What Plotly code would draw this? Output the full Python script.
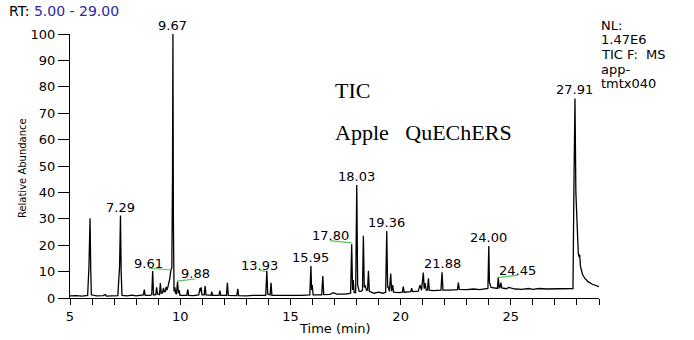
import plotly.graph_objects as go

# Chromatogram trace: (retention time [min], relative abundance [%])
tic_points = [
    (5.00, 0.8), (5.30, 0.9), (5.55, 0.7), (5.80, 1.0), (5.86, 12.0), (5.91, 30.2),
    (5.94, 11.0), (5.97, 1.2), (6.20, 0.8), (6.50, 0.9), (6.60, 1.3), (6.65, 0.7),
    (6.90, 0.8), (7.17, 0.9), (7.25, 12.0), (7.29, 31.2), (7.32, 10.0), (7.36, 1.0),
    (7.60, 0.8), (7.80, 1.1), (8.00, 0.8), (8.20, 1.0), (8.33, 1.2), (8.37, 3.2),
    (8.41, 1.0), (8.60, 1.0), (8.71, 1.2), (8.75, 10.2), (8.79, 1.2), (8.89, 1.2),
    (8.93, 4.0), (8.97, 1.5), (9.06, 1.3), (9.10, 5.7), (9.14, 1.8), (9.20, 2.0),
    (9.24, 3.8), (9.28, 2.3), (9.33, 2.5), (9.36, 4.2), (9.40, 3.0), (9.45, 4.5),
    (9.52, 7.0), (9.58, 10.6), (9.62, 11.5), (9.65, 45.0), (9.67, 100.0), (9.69, 30.0),
    (9.72, 2.5), (9.76, 4.0), (9.79, 1.8), (9.83, 1.6), (9.88, 6.2), (9.92, 1.8),
    (9.95, 3.0), (9.99, 1.0), (10.15, 1.0), (10.30, 1.0), (10.34, 3.3), (10.38, 1.0),
    (10.60, 0.9), (10.84, 1.2), (10.90, 3.7), (10.92, 2.5), (10.95, 4.0), (10.99, 1.2),
    (11.09, 1.2), (11.13, 4.5), (11.17, 1.2), (11.40, 1.0), (11.43, 2.4), (11.47, 1.0),
    (11.76, 1.0), (11.80, 2.8), (11.84, 1.0), (12.10, 1.0), (12.14, 5.8), (12.18, 1.0),
    (12.57, 0.9), (12.61, 3.5), (12.65, 0.9), (13.00, 0.8), (13.30, 1.0), (13.60, 0.9),
    (13.88, 1.0), (13.93, 10.3), (13.97, 1.5), (14.08, 1.2), (14.12, 5.8), (14.16, 1.0),
    (14.50, 0.9), (15.00, 1.0), (15.50, 1.0), (15.88, 1.2), (15.93, 12.1), (15.96, 3.0),
    (15.99, 4.9), (16.03, 1.2), (16.42, 1.2), (16.47, 8.3), (16.51, 1.3), (16.80, 1.4),
    (16.95, 2.0), (17.10, 1.5), (17.50, 1.5), (17.73, 1.8), (17.78, 20.4), (17.82, 3.0),
    (17.85, 6.8), (17.89, 2.0), (17.96, 2.0), (18.01, 42.8), (18.05, 5.0), (18.12, 2.5),
    (18.20, 2.5), (18.27, 3.0), (18.31, 23.6), (18.35, 4.0), (18.38, 4.9), (18.45, 3.0),
    (18.50, 3.0), (18.54, 10.3), (18.58, 2.5), (18.80, 1.8), (18.99, 2.2), (19.20, 1.8),
    (19.32, 2.2), (19.37, 25.4), (19.41, 4.0), (19.44, 4.3), (19.49, 2.5), (19.55, 9.3),
    (19.59, 2.6), (19.64, 4.9), (19.68, 2.2), (19.90, 2.0), (20.08, 2.2), (20.12, 4.3),
    (20.16, 2.2), (20.46, 2.4), (20.50, 3.7), (20.54, 2.4), (20.80, 2.6), (20.88, 4.9),
    (20.95, 3.0), (21.03, 9.6), (21.07, 3.5), (21.11, 5.6), (21.16, 3.0), (21.22, 3.0),
    (21.26, 7.5), (21.30, 3.0), (21.50, 2.8), (21.83, 3.0), (21.88, 9.7), (21.92, 3.0),
    (22.20, 3.0), (22.58, 3.2), (22.62, 5.8), (22.66, 3.3), (23.00, 3.2), (23.30, 3.4),
    (23.60, 3.2), (23.90, 3.3), (23.96, 3.6), (24.00, 19.7), (24.03, 6.0), (24.10, 4.0),
    (24.20, 3.8), (24.39, 3.6), (24.43, 7.8), (24.47, 3.8), (24.51, 4.0), (24.55, 5.8),
    (24.59, 3.8), (24.80, 3.5), (24.90, 4.0), (25.20, 3.4), (25.50, 3.3), (25.80, 3.6),
    (26.00, 3.3), (26.30, 3.6), (26.60, 3.4), (27.00, 3.5), (27.30, 3.4), (27.60, 3.5),
    (27.82, 3.6), (27.86, 40.0), (27.91, 75.6), (27.95, 40.0), (28.00, 25.0), (28.06, 17.0),
    (28.09, 15.6), (28.12, 16.5), (28.16, 12.0), (28.25, 9.0), (28.35, 7.5), (28.50, 6.2),
    (28.70, 5.2), (28.85, 4.6), (29.00, 4.3),
]
rt = [p[0] for p in tic_points]
abund = [p[1] for p in tic_points]

# Peak labels drawn directly above their apex
peak_txt = ["7.29", "9.67", "15.95", "18.03", "19.36", "21.88", "24.00", "27.91"]
peak_rt = [7.29, 9.67, 15.93, 18.01, 19.37, 21.88, 24.00, 27.91]
peak_h = [31.2, 100.0, 12.1, 42.8, 25.4, 9.7, 19.7, 75.6]

# Offset peak labels with green leader lines
off_txt = ["9.61", "9.88", "13.93", "17.80", "24.45"]
off_rt = [8.54, 10.69, 13.58, 16.80, 25.28]
off_h = [13.2, 9.1, 12.5, 23.5, 10.3]
lead_rt0 = [8.58, 9.855, 13.58, 16.80, 24.43]
lead_h0 = [11.35, 6.4, 10.6, 21.7, 7.8]
lead_rt1 = [9.58, 10.67, 13.88, 17.78, 25.30]
lead_h1 = [10.6, 7.2, 9.95, 20.9, 8.6]

x_ticks = [5, 10, 15, 20, 25]
y_ticks = list(range(0, 101, 10))
info_lines = ["NL:", "1.47E6", "TIC F:\u00a0\u00a0MS", "app-", "tmtx040"]

SANS = "DejaVu Sans"
SERIF = "Liberation Serif"
fig = go.Figure()
fig.add_trace(go.Scatter(x=rt, y=abund, mode="lines",
                         line=dict(color="black", width=1.3), hoverinfo="skip"))
for a, b, c, d in zip(lead_rt0, lead_h0, lead_rt1, lead_h1):
    fig.add_trace(go.Scatter(x=[a, c], y=[b, d], mode="lines",
                             line=dict(color="#55c455", width=1.2), hoverinfo="skip"))

ann = []
for t, x, y in zip(peak_txt, peak_rt, peak_h):
    ann.append(dict(x=x, y=y, xref="x", yref="y", text=t, showarrow=False,
                    xanchor="center", yanchor="bottom", yshift=-1,
                    font=dict(family=SANS, size=13, color="black")))
for t, x, y in zip(off_txt, off_rt, off_h):
    ann.append(dict(x=x, y=y, xref="x", yref="y", text=t, showarrow=False,
                    xanchor="center", yanchor="middle",
                    font=dict(family=SANS, size=13, color="black")))

info_y = [1.034, 0.981, 0.924, 0.867, 0.814]
for t, y in zip(info_lines, info_y):
    ann.append(dict(x=1, y=y, xref="paper", yref="paper", text=t, showarrow=False,
                    xanchor="left", yanchor="middle", xshift=0,
                    font=dict(family=SANS, size=13, color="black")))

ann.append(dict(x=0, y=1, xref="paper", yref="paper", xanchor="left", yanchor="middle",
                xshift=-63, yshift=23, showarrow=False,
                text="RT: <span style='color:#2828a8'>5.00 - 29.00</span>",
                font=dict(family=SANS, size=14, color="black")))
ann.append(dict(x=0, y=0.492, xref="paper", yref="paper", xanchor="center", yanchor="middle",
                xshift=-48, showarrow=False, textangle=-90, text="Relative Abundance",
                font=dict(family=SANS, size=10, color="black")))
ann.append(dict(x=0.5, y=0, xref="paper", yref="paper", xanchor="center", yanchor="middle",
                yshift=-30, showarrow=False, text="Time (min)",
                font=dict(family=SANS, size=13, color="black")))
ann.append(dict(x=0.497, y=0.786, xref="paper", yref="paper", xanchor="left", yanchor="middle",
                showarrow=False, text="TIC",
                font=dict(family=SERIF, size=22, color="black")))
ann.append(dict(x=0.497, y=0.626, xref="paper", yref="paper", xanchor="left", yanchor="middle",
                showarrow=False, text="Apple\u00a0\u00a0\u00a0QuEChERS",
                font=dict(family=SERIF, size=22, color="black")))

fig.update_layout(
    width=694, height=340,
    margin=dict(l=70, r=95, t=34, b=42),
    paper_bgcolor="white", plot_bgcolor="white",
    showlegend=False, annotations=ann,
    xaxis=dict(range=[5, 29], tickvals=x_ticks, ticks="outside", ticklen=6,
               tickcolor="black", showline=True, linecolor="black", linewidth=1,
               showgrid=False, zeroline=False,
               tickfont=dict(family=SANS, size=13, color="black"),
               minor=dict(dtick=1, tick0=5, ticks="outside", ticklen=6, tickcolor="black",
                          showgrid=False)),
    yaxis=dict(range=[0, 100], tickvals=y_ticks, ticks="outside", ticklen=11,
               tickcolor="black", showline=True, linecolor="black", linewidth=1,
               showgrid=False, zeroline=False,
               tickfont=dict(family=SANS, size=13, color="black")),
)
fig.write_html("out.html")
